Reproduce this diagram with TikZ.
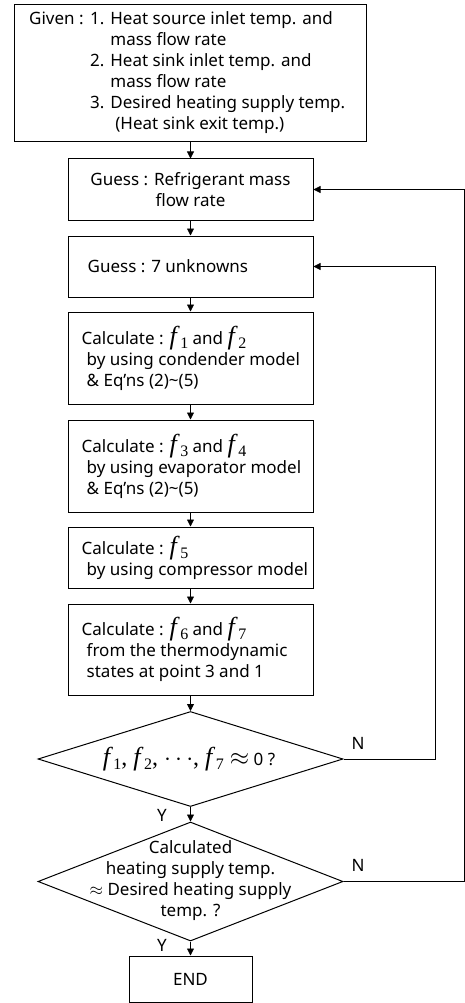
\documentclass[tikz,border=0pt]{standalone}
\usepackage{fontspec}
\setmainfont{Noto Sans}
\newfontfamily\tnr{Liberation Serif}
\usetikzlibrary{shapes.geometric}
\usetikzlibrary{arrows.meta}
\newcommand\fx[1]{{\tnr\fontsize{26}{26}\selectfont\textit{f}\kern0.5pt\raisebox{-4pt}{\fontsize{16}{16}\selectfont#1}}}

\begin{document}
\begin{tikzpicture}[x=1pt,y=1pt,
  font=\fontsize{17}{21}\selectfont,
  box/.style={draw,line width=1pt,minimum width=245pt,inner sep=0pt,align=center},
  txt/.style={anchor=west,align=left,inner sep=0pt},
  dia/.style={draw,diamond,line width=1pt,minimum width=305pt,inner sep=0pt},
  arr/.style={-{Triangle[width=7pt,length=7pt]},line width=0.8pt}]

\useasboundingbox (0,0) rectangle (465,-1003);

\node[box,minimum width=352pt,minimum height=137pt] (given) at (190.5,-73.5) {};
\node[txt] (givent) at ([xshift=15pt,yshift=1pt]given.west) {%
  \begin{tabular}{@{}p{61pt}@{}l@{}}
  Given : & 1. Heat source inlet temp. and\\
          & \phantom{1. }mass flow rate\\
          & 2. Heat sink inlet temp. and\\
          & \phantom{1. }mass flow rate\\
          & 3. Desired heating supply temp.\\
          & \phantom{1. }\hspace*{5pt}(Heat sink exit temp.)
  \end{tabular}};

\node[box,minimum height=61pt] (guess1) at (190.5,-189.5) {Guess : Refrigerant mass\\flow rate};
\node[box,minimum height=61pt] (guess2) at (190.5,-266.5) {};
\node[txt] (guess2t) at ([xshift=20pt]guess2.west) {Guess : 7 unknowns};

\node[box,minimum height=92pt] (calc1) at (190.5,-358) {};
\node[txt] (calc1t) at ([xshift=14pt]calc1.west) {Calculate : \fx{1} and \fx{2}\\
  \hspace*{5pt}by using condender model\\
  \hspace*{5pt}\& Eq’ns (2)\textasciitilde(5)};

\node[box,minimum height=92pt] (calc2) at (190.5,-466) {};
\node[txt] (calc2t) at ([xshift=14pt]calc2.west) {Calculate : \fx{3} and \fx{4}\\
  \hspace*{5pt}by using evaporator model\\
  \hspace*{5pt}\& Eq’ns (2)\textasciitilde(5)};

\node[box,minimum height=61pt] (calc3) at (190.5,-557.5) {};
\node[txt] (calc3t) at ([xshift=14pt]calc3.west) {Calculate : \fx{5}\\
  \hspace*{5pt}by using compressor model};

\node[box,minimum height=91pt] (calc4) at (190.5,-649.5) {};
\node[txt] (calc4t) at ([xshift=14pt]calc4.west) {Calculate : \fx{6} and \fx{7}\\
  \hspace*{5pt}from the thermodynamic\\
  \hspace*{5pt}states at point 3 and 1};

\node[dia,minimum height=95pt] (dia1) at (190.5,-759) {};
\node (dia1t) at (189,-759) {{\tnr\fontsize{24}{24}\selectfont\fx{1}, \fx{2}, $\cdots$, \fx{7} $\approx$} 0 ?};

\node[dia,minimum height=119pt] (dia2) at (190.5,-881.5) {};
\node[align=center,inner sep=0pt] (dia2t) at (190.5,-881) {Calculated\\heating supply temp.\\$\approx$ Desired heating supply\\temp. ?};

\node[box,minimum width=123pt,minimum height=46pt] (end) at (190.5,-979) {END};

\draw[arr] (given) -- (guess1);
\draw[arr] (guess1) -- (guess2);
\draw[arr] (guess2) -- (calc1);
\draw[arr] (calc1) -- (calc2);
\draw[arr] (calc2) -- (calc3);
\draw[arr] (calc3) -- (calc4);
\draw[arr] (calc4) -- (dia1);
\draw[arr] (dia1) -- (dia2);
\draw[arr] (dia2) -- (end);

\coordinate (r1) at (435,-759);
\coordinate (r2) at (464.5,-881.5);
\draw[arr] (dia1.east) -- (r1) |- (guess2.east);
\draw[arr] (dia2.east) -- (r2) |- (guess1.east);

\node (n1) at (358,-743) {N};
\node (n2) at (358,-865) {N};
\node (y1) at (162,-815) {Y};
\node (y2) at (162,-945) {Y};

\end{tikzpicture}
\end{document}
